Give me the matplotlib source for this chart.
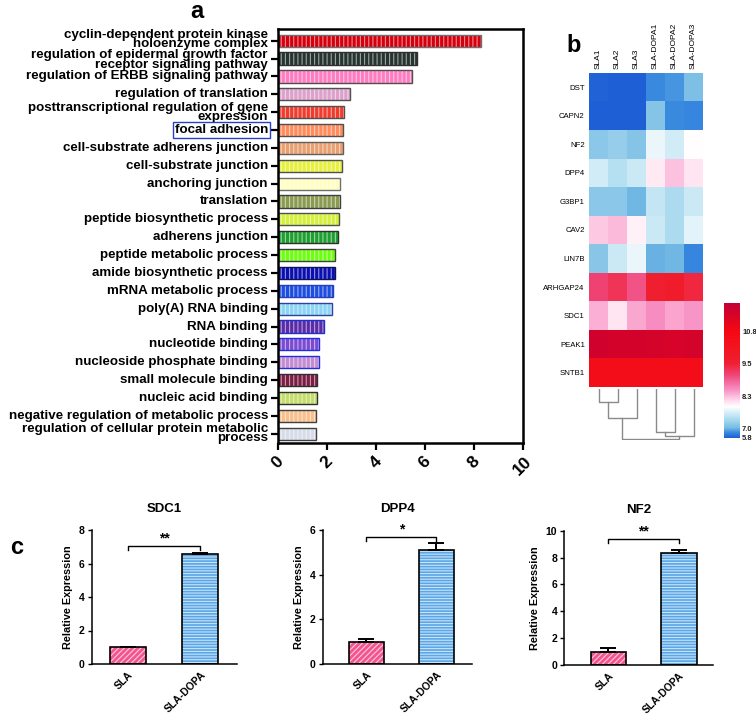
import numpy as np
import matplotlib
matplotlib.use("Agg")
import matplotlib.pyplot as plt
from matplotlib.colors import LinearSegmentedColormap, to_rgb
from matplotlib.transforms import blended_transform_factory

plt.rcParams['font.family'] = ['Liberation Sans', 'DejaVu Sans']
plt.rcParams['hatch.linewidth'] = 0.8

# ---- panel a: GO enrichment ----
go_terms = [
    "cyclin-dependent protein kinase\nholoenzyme complex",
    "regulation of epidermal growth factor\nreceptor signaling pathway",
    "regulation of ERBB signaling pathway",
    "regulation of translation",
    "posttranscriptional regulation of gene\nexpression",
    "focal adhesion",
    "cell-substrate adherens junction",
    "cell-substrate junction",
    "anchoring junction",
    "translation",
    "peptide biosynthetic process",
    "adherens junction",
    "peptide metabolic process",
    "amide biosynthetic process",
    "mRNA metabolic process",
    "poly(A) RNA binding",
    "RNA binding",
    "nucleotide binding",
    "nucleoside phosphate binding",
    "small molecule binding",
    "nucleic acid binding",
    "negative regulation of metabolic process",
    "regulation of cellular protein metabolic\nprocess",
]
go_scores = [8.29, 5.67, 5.45, 2.94, 2.69, 2.67, 2.65, 2.62, 2.53, 2.53, 2.49, 2.46,
             2.31, 2.33, 2.24, 2.19, 1.88, 1.66, 1.66, 1.58, 1.59, 1.55, 1.54]
go_colors = ['#d4000e', '#26352f', '#ff7cc0', '#dca2cc', '#f03c2c', '#ff8c5c',
             '#e8a070', '#e6f040', '#ffffc4', '#8a9a50', '#d4f03c', '#1ea030',
             '#6cff10', '#0c10b0', '#1e4ee0', '#8cd4f4', '#5a2ca8', '#7c4cd0',
             '#c48cd0', '#7c1e44', '#c4dc6c', '#f8c08c', '#d8dce8']
go_edges = ['#707070', '#303030', '#505050', '#505050', '#505050', '#505050',
            '#606060', '#505050', '#707070', '#404040', '#505050', '#303030',
            '#404040', '#101060', '#2040c0', '#3040a0', '#2030d0', '#2030e0',
            '#2030e0', '#303030', '#303030', '#404040', '#404040']
x_ticks_a = [0, 2, 4, 6, 8, 10]

# ---- panel b: heatmap ----
genes = ["DST", "CAPN2", "NF2", "DPP4", "G3BP1", "CAV2", "LIN7B", "ARHGAP24",
         "SDC1", "PEAK1", "SNTB1"]
samples = ["SLA1", "SLA2", "SLA3", "SLA-DOPA1", "SLA-DOPA2", "SLA-DOPA3"]
expr = np.array([
    [5.90, 5.85, 5.80, 6.45, 6.60, 7.05],
    [5.80, 5.82, 5.80, 7.10, 6.45, 6.40],
    [7.15, 7.20, 7.10, 7.75, 7.60, 7.86],
    [7.60, 7.42, 7.55, 8.00, 8.25, 8.05],
    [7.15, 7.15, 6.95, 7.50, 7.35, 7.55],
    [8.22, 8.30, 7.95, 7.55, 7.35, 7.70],
    [7.12, 7.55, 7.75, 6.90, 6.95, 6.40],
    [9.10, 9.25, 8.95, 9.50, 9.70, 9.40],
    [8.35, 8.05, 8.40, 8.55, 8.42, 8.50],
    [11.55, 11.50, 11.50, 11.45, 11.40, 11.45],
    [10.50, 10.50, 10.50, 10.50, 10.50, 10.50],
])
cbar_ticks = [5.8, 7.0, 8.3, 9.5, 10.8]
# value -> position on colour bar (the scale is not linear)
scale_vals = [5.8, 7.0, 8.3, 9.5, 10.8, 11.9]
scale_pos = [0.0, 0.074, 0.311, 0.552, 0.79, 1.0]
# dendrogram: (left x, right x, left h, right h, merge h)
dendro_links = [
    (0.5, 1.5, 0, 0, 13),
    (1.0, 2.5, 13, 0, 29),
    (3.5, 4.5, 0, 0, 43),
    (4.0, 5.5, 43, 0, 47),
    (1.75, 4.75, 29, 47, 50),
]

# ---- panel c: qPCR ----
groups = ["SLA", "SLA-DOPA"]
qpcr_genes = ["SDC1", "DPP4", "NF2"]
qpcr_mean = [[1.0, 6.58], [1.0, 5.10], [1.0, 8.36]]
qpcr_err = [[0.03, 0.06], [0.10, 0.30], [0.25, 0.20]]
qpcr_ylim = [8, 6, 10]
qpcr_yticks = [[0, 2, 4, 6, 8], [0, 2, 4, 6], [0, 2, 4, 6, 8, 10]]
qpcr_sig = ["**", "*", "**"]
qpcr_sig_y = [7.05, 5.7, 9.36]


def lighten(c, f):
    r = np.array(to_rgb(c))
    return tuple(r + (1 - r) * f)


W, H = 756, 715
fig = plt.figure(figsize=(W / 100, H / 100), dpi=100)


def px_axes(x0, y0, x1, y1):
    return fig.add_axes([x0 / W, 1 - y1 / H, (x1 - x0) / W, (y1 - y0) / H])


# ===== panel a =====
ax = px_axes(278, 29, 523, 443)
ypos = np.arange(len(go_terms))
hatch_cols = [lighten(c, 0.55) for c in go_colors]
for i in ypos:
    ax.barh(i, go_scores[i], height=0.68, color=go_colors[i], edgecolor=hatch_cols[i],
            hatch='||||', linewidth=0)
    ax.barh(i, go_scores[i], height=0.68, facecolor='none', edgecolor=go_edges[i],
            linewidth=1.0)
ax.set_ylim(22.52, -0.655)
ax.set_xlim(0, 10)
ax.set_yticks(ypos)
ax.set_yticklabels([])
# term labels drawn as texts so the two-line ones can be packed tightly;
# the first two blocks sit a little apart, as in the original
nudge = {0: -0.07, 1: 0.08}
lab_tr = blended_transform_factory(ax.transAxes, ax.transData)
for i, term in zip(ypos, go_terms):
    t = ax.text(-0.041, i + nudge.get(i, 0), term, transform=lab_tr, ha='right',
                va='center', fontsize=9.6, fontweight='bold', linespacing=0.68,
                clip_on=False)
    if term == "focal adhesion":
        t.set_bbox(dict(facecolor='none', edgecolor='#2a3fc8', linewidth=1.0, pad=1.2))
ax.set_xticks(x_ticks_a)
ax.set_xticklabels([str(v) for v in x_ticks_a], fontsize=12.5, fontweight='bold',
                   rotation=45, ha='center', va='top')
ax.tick_params(axis='y', length=5, width=1.6, pad=2)
ax.tick_params(axis='x', length=5, width=1.6, pad=3)
for s in ax.spines.values():
    s.set_linewidth(1.8)
fig.text(190 / W, 1 - 12 / H, "a", fontsize=17, fontweight='bold', va='center')

# ===== panel b =====
cmap = LinearSegmentedColormap.from_list("hm", [
    (0.0, '#1f5fd6'), (0.04, '#3a8be0'), (0.074, '#78bce4'), (0.148, '#b5e0f2'),
    (0.23, '#ffffff'), (0.28, '#ffd6ea'), (0.355, '#f890c4'), (0.465, '#f04478'),
    (0.55, '#f02030'), (0.79, '#f50812'), (1.0, '#c0003a')])
hx = px_axes(589, 73, 703, 387)
hx.imshow(np.interp(expr, scale_vals, scale_pos), cmap=cmap, vmin=0, vmax=1,
          aspect='auto', interpolation='nearest')
hx.set_xticks(np.arange(len(samples)))
hx.set_xticklabels(samples, rotation=90, fontsize=6)
hx.xaxis.tick_top()
hx.set_yticks(np.arange(len(genes)))
hx.set_yticklabels(genes, fontsize=5.6)
hx.tick_params(length=0, pad=3)
for s in hx.spines.values():
    s.set_visible(False)
fig.text(566 / W, 1 - 45 / H, "b", fontsize=17, fontweight='bold', va='center')

dx = px_axes(589, 389, 703, 440)
for xl, xr, hl, hr, hm in dendro_links:
    dx.plot([xl, xl, xr, xr], [hl, hm, hm, hr], color='#8a8a8a', lw=1.0)
dx.set_xlim(0, 6)
dx.set_ylim(51, 0)
dx.axis('off')

cx = px_axes(724, 303, 740, 438)
cx.imshow(np.linspace(0, 1, 256)[:, None], cmap=cmap, aspect='auto', origin='lower',
          extent=[0, 1, 0, 1])
cx.set_xticks([])
cx.yaxis.tick_right()
cx.set_yticks(np.interp(cbar_ticks, scale_vals, scale_pos))
cx.set_yticklabels([f"{v:.1f}" for v in cbar_ticks], fontsize=5.4, fontweight='bold',
                   color='#202020')
cx.tick_params(length=0, pad=1.5)
for s in cx.spines.values():
    s.set_visible(False)

# ===== panel c =====
c_boxes = [(91.7, 530, 237, 664), (322.7, 530, 472, 664), (564.3, 530.7, 713, 665)]
c_xlims = [(-0.503, 1.508), (-0.62, 1.506), (-0.62, 1.476)]
for k in range(3):
    a = px_axes(*c_boxes[k])
    xs = np.arange(len(groups))
    a.bar(xs[0], qpcr_mean[k][0], width=0.5, color='#f2558e', edgecolor='#ffc8dc',
          hatch='//////', linewidth=0, zorder=2)
    a.bar(xs[1], qpcr_mean[k][1], width=0.5, color='#5aa6e6', edgecolor='#c8e4fa',
          hatch='------', linewidth=0, zorder=2)
    a.bar(xs, qpcr_mean[k], width=0.5, facecolor='none', edgecolor='black',
          linewidth=1.2, zorder=3)
    a.errorbar(xs, qpcr_mean[k], yerr=[[0, 0], qpcr_err[k]], fmt='none', ecolor='black',
               elinewidth=1.4, capsize=6, capthick=1.4, zorder=4)
    yb = qpcr_sig_y[k]
    tick_h = qpcr_ylim[k] * 0.03
    a.plot([0, 0, 1, 1], [yb - tick_h, yb, yb, yb - tick_h], color='black', lw=1.0)
    a.text(0.5, yb + qpcr_ylim[k] * 0.005, qpcr_sig[k], ha='center', va='bottom',
           fontsize=10, fontweight='bold')
    a.set_xlim(*c_xlims[k])
    a.set_ylim(0, qpcr_ylim[k])
    a.set_yticks(qpcr_yticks[k])
    a.set_yticklabels([str(v) for v in qpcr_yticks[k]], fontsize=7.5, fontweight='bold')
    a.set_xticks(xs)
    a.set_xticklabels(groups, rotation=45, ha='right', rotation_mode='anchor',
                      fontsize=7.5, fontweight='bold')
    a.tick_params(axis='x', length=0, pad=4)
    a.tick_params(axis='y', length=3, width=1.0, pad=2)
    a.spines['top'].set_visible(False)
    a.spines['right'].set_visible(False)
    a.spines['left'].set_linewidth(1.1)
    a.spines['bottom'].set_linewidth(1.1)
    a.set_ylabel("Relative Expression", fontsize=7.8, fontweight='bold', labelpad=4)
    a.set_title(qpcr_genes[k], fontsize=9.5, fontweight='bold', pad=13)
fig.text(10 / W, 1 - 548 / H, "c", fontsize=17, fontweight='bold', va='center')

fig.savefig("out.png", dpi=100)
